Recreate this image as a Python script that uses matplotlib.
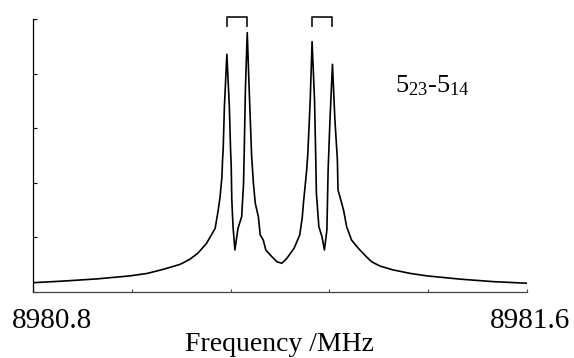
import matplotlib
matplotlib.use("Agg")
import matplotlib.pyplot as plt

plt.rcParams['font.family'] = ['Liberation Serif', 'DejaVu Serif']
plt.rcParams['mathtext.fontset'] = 'custom'
plt.rcParams['mathtext.rm'] = 'Liberation Serif'
plt.rcParams['mathtext.default'] = 'regular'

# spectrum (MHz, normalised intensity)
freq = [8980.800, 8980.849, 8980.904, 8980.957, 8980.985, 8981.011, 8981.038,
        8981.046, 8981.054, 8981.067, 8981.081, 8981.095, 8981.100, 8981.103,
        8981.106, 8981.107, 8981.108, 8981.110, 8981.114, 8981.118, 8981.120,
        8981.121, 8981.122, 8981.124, 8981.127, 8981.132, 8981.138, 8981.141,
        8981.142, 8981.144, 8981.147, 8981.150, 8981.154, 8981.157, 8981.160,
        8981.165, 8981.168, 8981.173, 8981.177, 8981.187, 8981.195, 8981.203,
        8981.211, 8981.219, 8981.223, 8981.232, 8981.236, 8981.238, 8981.243,
        8981.245, 8981.249, 8981.252, 8981.256, 8981.258, 8981.259, 8981.263,
        8981.268, 8981.272, 8981.276, 8981.278, 8981.281, 8981.285, 8981.289,
        8981.293, 8981.294, 8981.303, 8981.308, 8981.316, 8981.327, 8981.340,
        8981.349, 8981.362, 8981.383, 8981.411, 8981.438, 8981.492, 8981.545,
        8981.600]
inten = [0.034, 0.040, 0.048, 0.059, 0.068, 0.083, 0.101,
         0.110, 0.120, 0.142, 0.178, 0.233, 0.300, 0.349,
         0.422, 0.484, 0.520, 0.679, 0.871, 0.679, 0.520,
         0.465, 0.337, 0.239, 0.154, 0.233, 0.276, 0.398,
         0.502, 0.740, 0.950, 0.752, 0.502, 0.398, 0.325,
         0.276, 0.209, 0.190, 0.154, 0.129, 0.111, 0.105,
         0.123, 0.148, 0.161, 0.209, 0.271, 0.325, 0.440,
         0.502, 0.703, 0.917, 0.703, 0.484, 0.362, 0.239,
         0.203, 0.154, 0.227, 0.447, 0.630, 0.834, 0.630,
         0.484, 0.374, 0.300, 0.239, 0.190, 0.160, 0.129,
         0.110, 0.095, 0.081, 0.068, 0.059, 0.047, 0.038,
         0.032]

# Doppler doublets marked with brackets
doublet_lo = [8981.114, 8981.252]
doublet_hi = [8981.146, 8981.284]

x_ticks = [8980.80, 8980.96, 8981.12, 8981.28, 8981.44, 8981.60]
y_ticks = [0.0, 0.2, 0.4, 0.6, 0.8, 1.0]

fig = plt.figure(figsize=(5.74, 3.58), dpi=100)
ax = fig.add_axes([0.0575, 0.1844, 0.8605, 0.7625])

ax.plot(freq, inten, color='black', lw=1.2)

for lo, hi in zip(doublet_lo, doublet_hi):
    ax.plot([lo, lo, hi, hi], [0.974, 1.007, 1.007, 0.974], color='#222222',
            lw=1.3, clip_on=False)

ax.set_xlim(8980.8, 8981.6)
ax.set_ylim(0, 1.0)
ax.set_xticks(x_ticks)
ax.set_yticks(y_ticks)
ax.set_xticklabels([])
ax.set_yticklabels([])
ax.tick_params(axis='x', direction='in', length=2.3, width=0.8, color='#444444')
ax.tick_params(axis='y', direction='in', length=3.0, width=0.8)
for s in ['top', 'right']:
    ax.spines[s].set_visible(False)
ax.spines['bottom'].set_color('#444444')
ax.spines['bottom'].set_linewidth(0.9)
ax.spines['left'].set_linewidth(0.9)

fig.text(0.0906, 0.102, '8980.8', fontsize=21, ha='center', va='center')
fig.text(0.923, 0.102, '8981.6', fontsize=21, ha='center', va='center')
fig.text(0.486, 0.02, 'Frequency /MHz', fontsize=20, ha='center', va='baseline')
ax.text(0.688, 0.743, '5$_{23}$-5$_{14}$', transform=fig.transFigure,
        fontsize=19, ha='left', va='baseline')

fig.savefig('out.png', dpi=100)
